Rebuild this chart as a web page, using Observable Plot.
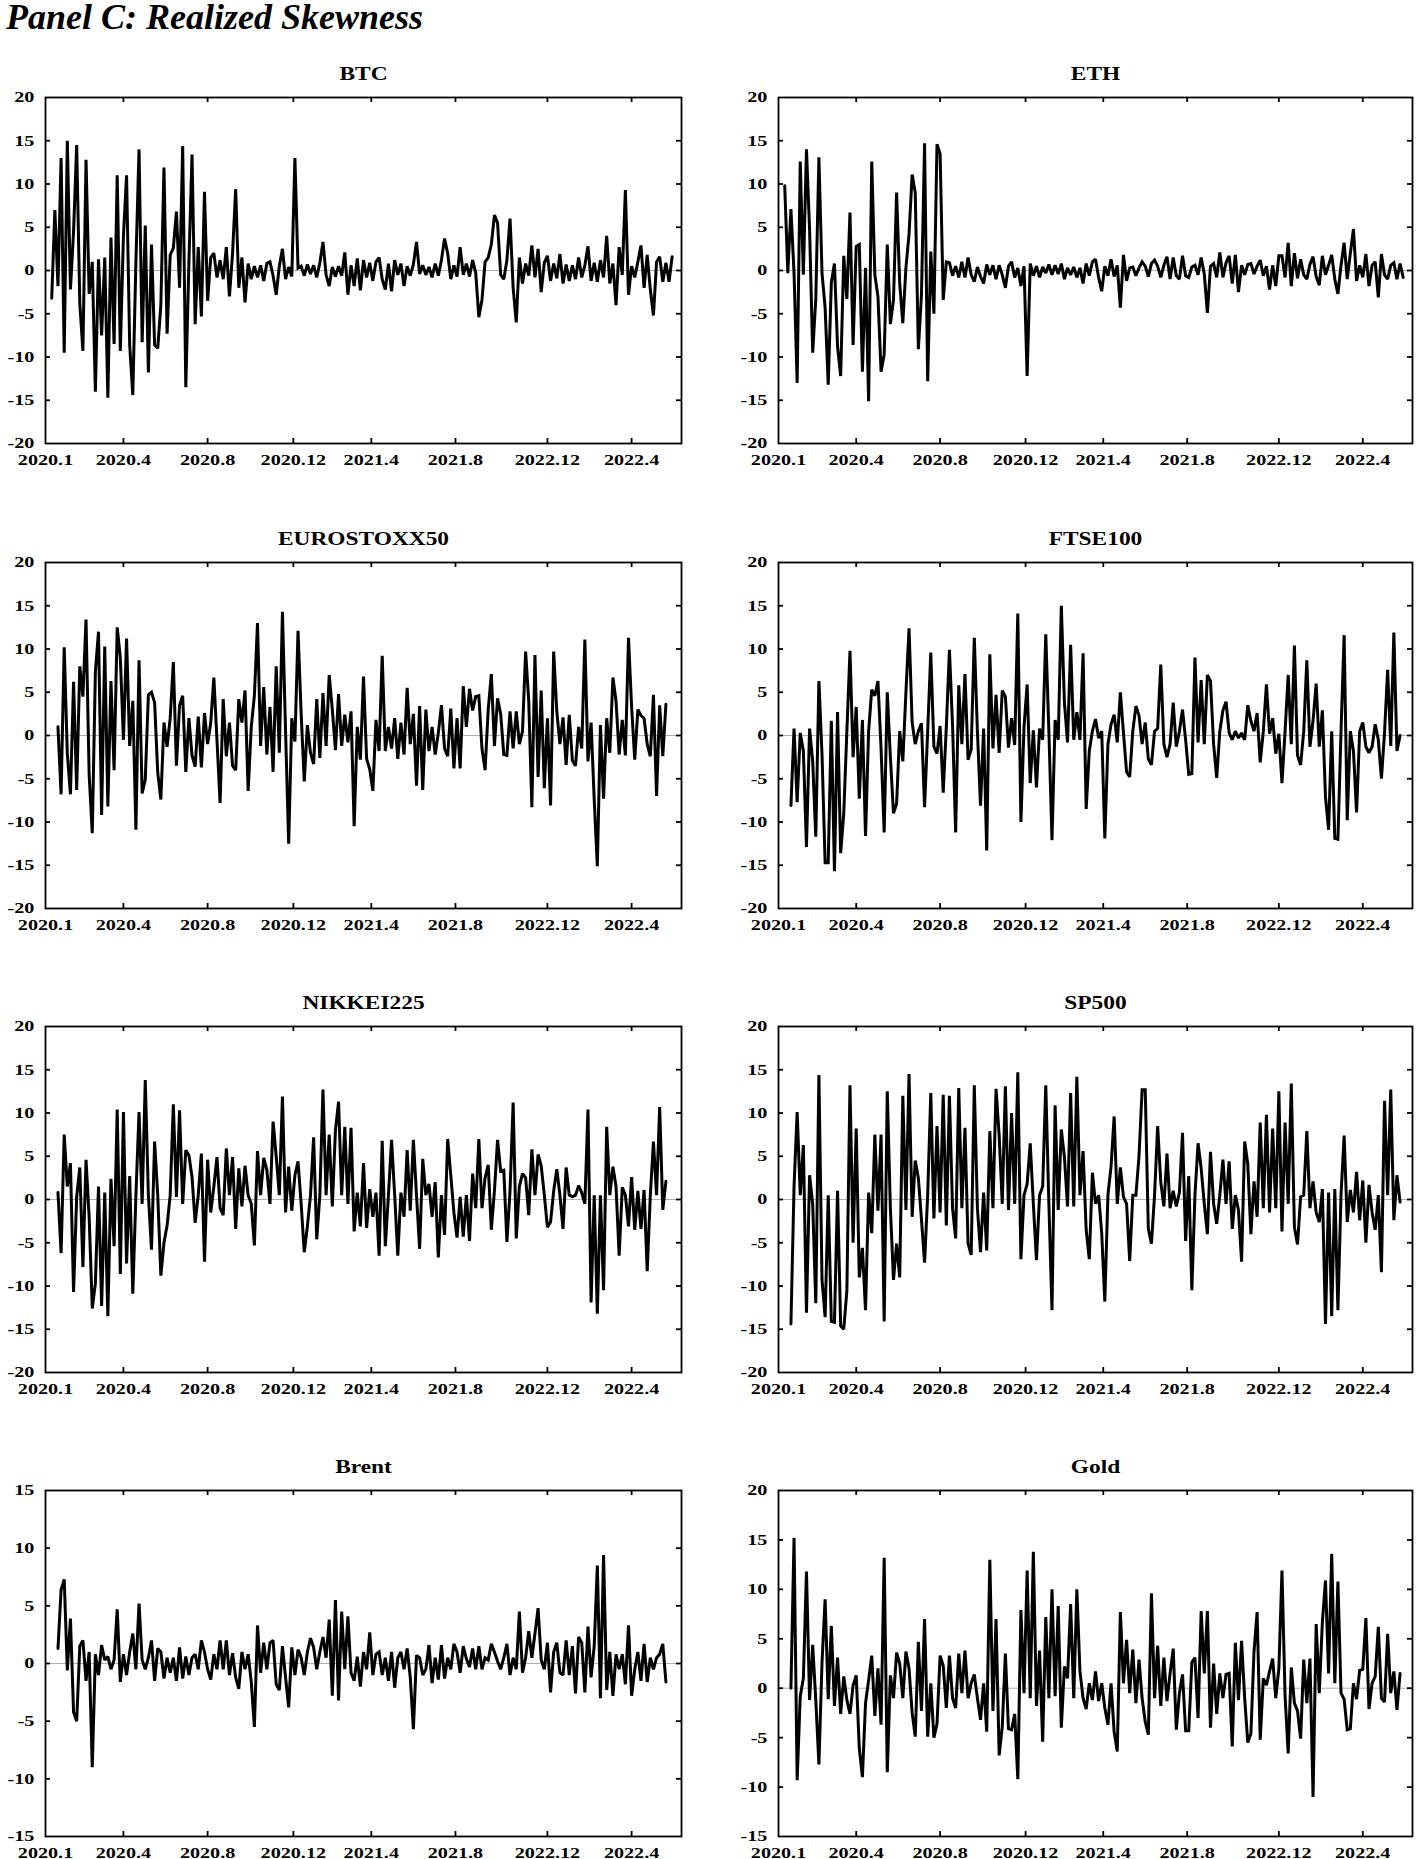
<!DOCTYPE html>
<html><head><meta charset="utf-8">
<script src="https://cdn.jsdelivr.net/npm/d3@7"></script>
<script src="https://cdn.jsdelivr.net/npm/@observablehq/plot@0.6"></script>
<style>
html,body{margin:0;padding:0;background:#fff}
body{width:1416px;height:1859px;overflow:hidden;position:relative}
#title{position:absolute;left:6px;top:-4px;font:italic bold 36px "Liberation Serif",serif;color:#000;white-space:nowrap}
.panel{position:absolute}
</style></head><body>
<div id="title">Panel C: Realized Skewness</div>
<div id="root"></div>
<script>
const seriesNames = ["BTC","ETH","EUROSTOXX50","FTSE100","NIKKEI225","SP500","Brent","Gold"];

const btc = [
-3.2,7,-1.8,13,-9.5,15,-2.2,4.5,14.5,-3.8,
-9.3,12.8,-2.7,1,-14,1.3,-7.5,1.5,-14.7,3.8,
-8.5,11,-9.3,4,11,-8.6,-14.4,1,14,-8.3,
5.2,-11.8,3,-8.6,-9,-4,11.9,-7.3,1.8,2.6,
6.8,-2,14.4,-13.5,1,13.4,-6.2,2.7,-5.3,9.1,
-3.5,1.5,2,-0.8,1.2,-1,2.7,-3,2,9.4,
-2,1.5,-3.7,0.8,-1,0.5,-0.8,0.6,-1.2,0.8,
1,-0.6,-2.8,0.5,2.5,-1,0.4,-0.7,13,0.3,
0.5,-0.6,0.7,-0.4,0.6,-0.8,0.9,3.3,-0.5,-1.8,
0.4,-0.7,0.5,-0.6,2.1,-2.8,0.6,-1.8,1.4,-2.3,
1.2,-0.8,0.9,-1.2,1,1.5,-1,-2.2,0.8,-2.4,
1.2,-0.5,0.8,-1.8,0.5,-0.6,0.7,3.3,-0.4,0.6,
-0.5,0.4,-0.8,0.8,-0.6,1.2,3.7,2,-1,0.6,
-0.7,2.7,-0.5,0.8,-0.7,1.2,-0.3,-5.4,-3.4,1,
1.5,3,6.4,5.5,-0.5,-1,1.2,6,-2,-6,
1.5,-1.5,0.8,-0.6,2.9,-0.8,2.5,-2.5,0.9,1.7,
-1.2,0.8,-0.9,1.9,-1.5,0.7,-1.2,0.6,-1,1.5,
-0.8,0.6,2.8,-1.2,0.9,-1.3,1.2,-0.8,4,-1.5,
0.8,-4,2.7,-0.5,9.3,-2.8,0.5,-0.8,1,2.9,
-2,1.8,-2.2,-5.2,1,1.6,-1.3,0.9,-1.3,1.6];

const eth = [
9.8,-0.3,7.1,-0.3,-13,12.6,-0.5,14,4.8,-9.5,
-3.3,13.1,-0.3,-4.3,-13.2,-1.4,0.8,-8.8,-12.2,1.7,
-3.3,6.7,-8.6,2.8,3,-11.7,0.3,-15.1,12.6,-0.5,
-3,-11.7,-9.7,3,-6.2,-3.4,9,-1.5,-6.1,0.3,
4.2,11.1,9,-9.1,-2.8,14.7,-12.8,2.2,-5,14.6,
13.5,-3.4,1,0.9,-0.6,0.5,-0.8,1,-0.8,1.5,
-0.5,-1.3,0.4,-0.7,-1.5,0.7,-0.5,0.6,-1,0.6,
-0.5,-2,0.5,1,-0.8,0.3,-1.8,0.5,-12.2,0.8,
-0.6,0.5,-0.8,0.4,-0.3,0.7,-0.5,0.6,-0.4,0.8,
-1,0.3,-0.5,0.4,-0.8,0.3,-1.5,0.8,-0.6,1,
1.3,-0.8,-2.4,0.5,-0.6,1.3,-0.7,0.6,-4.3,1.8,
-1.2,0.3,0.4,-0.6,0.3,1,0.5,-0.7,0.8,1.2,
0.5,-0.8,0.6,1.6,-1,1.5,-0.6,-1,1.7,-0.6,
-0.8,0.4,0.6,-0.5,1.5,-0.4,-4.9,0.5,0.8,-0.8,
2.1,-0.8,0.9,1.7,-1.5,1.8,-2.5,0.6,-0.5,0.7,
0.8,-0.4,0.5,1.2,-0.6,0.5,-2.2,0.6,-1.8,1.7,
1.7,-0.8,3.2,-1.8,2,-0.9,1.3,-0.5,-1,0.7,
1.6,-0.7,-1.7,1.7,-0.5,0.6,1.8,-1,-2.7,0.6,
3.2,-1,2,4.8,-1.2,0.6,-0.8,1.9,-1.8,0.6,
1,-3.1,1.9,-0.5,-1,0.6,0.9,-1,0.8,-0.8];

const eurostoxx = [
null,null,1,-6.8,10.2,-2.1,-6.8,6.2,-6.3,8,
4.5,13.4,-4.5,-11.3,7.4,12,-9.2,10.3,-8.2,6.3,
-4,12.5,9,-0.5,11.2,-1.2,4,-10.9,8.7,-6.7,
-5.1,4.7,5,3.8,-4.3,-7.4,1.5,-1.3,2,8.5,
-3.5,3.5,4.6,-4.2,2,-2.3,-3.6,2.2,-3.7,2.6,
-1,1.5,6.7,-0.5,-7.8,4.2,-2.4,1.5,-3.5,-4,
4.2,1.5,5.2,-6.4,1,4.6,13,-1.2,5.6,-2.2,
3.3,-4.2,8,-2,14.3,0.5,-12.5,2,-0.7,12.1,
2.5,-5.3,1.2,-2,-3.3,4.2,-2.6,4.9,-1.2,7,
3,-1.7,4.8,-1.2,2.4,-0.8,2.8,-10.5,1,-2.8,
6.8,-2.7,-3.9,-6.4,1.8,-1.8,9.2,-1.8,1,-1.5,
2,-2.7,1.5,-2.2,5.5,-1,2.5,-5.8,3.4,-6.3,
3,-1.8,1,-2.2,0.3,3.5,-1.5,-2.4,3.1,-3.8,
2,-3.8,5.7,1,5.4,2.9,4.5,4.6,-1.5,-4,
3,7.1,-1.2,4.3,2.5,-2.2,-2.3,2.8,-1.5,2.8,
-1,0.5,9.7,4,-8.3,9.3,-4.8,5.2,-6.1,2,
-8.1,9.7,2.8,-1,2.1,-3.4,2.4,-2.9,-3.5,1,
-1.5,11.1,-3,1.5,-7.4,-15.1,1.2,-7.3,2,-2,
6.7,4,-2.2,1.8,-2.3,11.3,3.3,-2.8,3,2.3,
2,-1,-2.4,4.7,-7,3.5,-2.4,3.6];

const ftse = [
null,null,-8.1,0.8,-7.7,0.3,-1.8,-12.9,0.8,-3,
-11.7,6.3,-2.2,-14.7,-14.7,1.7,-15.7,2.7,-13.6,-9,
0.5,9.8,-2.5,3.3,-7.3,1.8,-11.6,0.5,5.3,4.6,
6.3,-1.5,-11.2,5,-2.5,-9,-7.9,0.5,-3,5,
12.4,1.5,-1,0.5,1.4,-8.3,0.5,9.6,-1.3,-2.1,
1.1,-6.6,1,9.9,1.2,-11.2,5.8,-1,7.1,-2.8,
-1.6,11.3,0.5,-8.1,0.8,-13.3,9.4,-1.5,4.7,-2,
5.2,4.5,-1.4,2,-1.1,14.1,-10,1,5.9,-5.5,
0.6,-6,0.8,-0.5,11.7,0.5,-12.1,1.8,-0.5,15,
3.8,-0.8,10.5,-0.5,2.7,-0.5,9.5,-8.5,-1.8,0.5,
1.9,-0.3,0.5,-11.9,-1,1.3,2.4,-0.8,5,0.3,
-4.2,-4.8,0.5,3.4,2.3,-1,1.5,-2.7,-3.4,0.5,
0.8,8.2,-1,-2.5,-1,3.8,-1.3,0.5,3,-0.5,
-4.5,-4.4,9,-0.8,6.4,-1,7,6.3,-1,-4.9,
0.5,2.9,3.9,0.3,-0.5,0.5,-0.3,0.3,-0.5,3.5,
1.7,0.5,2.6,-3.1,0.5,5.9,0.2,2,-2.1,0.2,
-5.5,0.5,7,-1,10.4,-2.3,-3.4,0.5,8.7,-1.3,
1.7,6,-1.3,2.9,-7.1,-10.9,0.5,-11.9,-12,0.5,
11.6,-9.8,0.5,-1.8,-8.9,0.5,1.5,-1.3,-2,-1.3,
1.3,-0.5,-5,0.3,7.6,-1.2,11.9,-1.8,0];

const nikkei = [
null,null,0.8,-6.2,7.5,1.5,4.2,-10.7,0.3,3.7,
-7.8,4.6,-2,-12.6,-9.7,1.5,-12.3,0.8,-13.5,2.4,
-5.4,10.4,-8.6,10.1,-7.4,2.7,-10.9,0.5,10.1,-0.5,
13.8,0.5,-5.8,6.7,0.5,-8.8,-5,-3,0.5,11,
0.3,10.3,-0.5,5.7,5.1,2.6,-2.7,0.5,5.3,-7.2,
4.6,-1.5,1.5,4.9,-1,-1.8,5.9,0.5,4.9,-3.4,
3.6,-0.8,3.9,0.5,-0.5,-5.3,5.6,0.5,4.8,3.4,
-0.5,9,5,0.5,11.9,-1.5,3.8,-1.3,2.8,4.4,
-0.5,-6.1,-3.1,0.5,7.2,-4.6,0.5,12.7,0.5,7.5,
-0.8,8,11.3,0.5,8.4,-0.5,8.3,-3.7,0.8,-3.1,
4.2,-3.3,1.2,-2,0.8,-6.5,6.8,-5.4,0.5,6.9,
0.5,-6.5,0.8,-2,5.7,-1.3,6.9,0.5,-5.7,4.7,
0.5,1.8,-2,2,-6.7,0.5,-4.1,7,2.8,-1.5,
-4.4,0.3,-4.3,0.5,-4.8,3,-1,7,-1,2.5,
4,-3.5,1,6.9,3.3,3.4,-4.9,1,11.2,-4.5,
1.5,3,2.5,-1.8,5.8,0.5,5.2,3.9,0.5,-3.2,
-2.6,1,3.5,0.5,-3.4,3.7,0.5,0.3,0.5,1.6,
0.8,-0.5,10.4,-11.9,0.5,-13.2,0.5,-10.5,8.4,0.5,
3.8,1.5,-6.5,1.4,0.5,-3.1,2.6,-3.5,1,-3.4,
1.1,-8.3,0.5,6.7,0.5,10.7,-1.2,2.1];

const sp500 = [
null,null,-14.4,1.5,10.1,0.5,6.3,-13.1,2.8,-0.5,
-12,14.4,-9.3,-13.6,0.5,-14.1,-14.2,1,-14.6,-15,
-10.5,13.2,-5,8.2,-9,-5.6,-12.8,0.8,-3.9,7.5,
-1.3,7.5,-14.1,12.5,-1,-9.3,-5.1,-9,12,-1.2,
14.5,-2,4.5,2.5,-2.3,-7.3,0.5,12.3,-2.2,8.5,
-1.5,12.1,-3,12,-1,-4.5,12.9,-1,8.3,-5.1,
-6.4,13.2,-1,-6.1,0.8,-5.9,7.9,-1,12.8,7.4,
-0.5,13.1,-1.2,10,-0.5,14.7,-6.9,0.5,1.8,6.5,
-0.5,-7,0.5,1.5,13.2,-0.5,-12.8,10.9,-1.2,8.1,
4.9,-0.8,12.3,-0.8,14.2,0.5,5.6,-3.5,-6.9,3.1,
-0.5,0.5,-3.9,-11.8,0.5,3.8,9.6,-0.5,3.7,0.3,
-0.5,-7.1,0.5,0.5,5,12.7,12.7,-3.4,-5.1,0.5,
8.5,2,-0.8,5.3,-1,1,-0.8,0.8,7.7,-4.8,
2.7,-10.5,0.5,6.5,3.6,-0.5,-4,5.5,-0.5,-2.8,
0.5,4.6,-0.5,4.4,-3.4,0.5,-1.2,-7.2,6.7,4.1,
-4,2.1,-2,8.9,-1,9.8,-1.5,8.2,-1,12.5,
-3.7,8.9,-0.5,13.4,-3.2,-5.2,0.3,0.5,7.9,-1,
2.1,-1.5,-2.6,1.2,-14.4,0.8,-13.5,1.2,-12.8,0.5,
7.4,-2.6,1.1,-1.5,3.2,-2.4,2.2,-5,1.7,-1.5,
-3.5,0.5,-8.4,11.4,0.5,12.7,-2.4,2.8,-0.3];

const brent = [
null,null,1.3,6.4,7.3,-0.6,3.9,-4.2,-5,1.5,
2,-1.5,1,-9,0.8,-1,1.6,0.3,0.6,-0.5,
0.3,4.7,-1.6,0.8,-1,1,2.6,-0.5,5.2,0.3,
-0.5,0.5,2,-1.5,1.3,1,-1.3,0.5,-0.8,0.5,
-1.5,1.4,-1.3,0.6,-1,0.5,0.8,-0.5,2,1,
-0.5,-1.4,0.8,-0.5,2,-0.5,2,-1,0.9,-1.2,
-2.2,1,-0.5,0.8,-1.6,-5.5,3.3,-0.8,1.8,-0.5,
1.8,2,-1.8,-2.3,1.5,-1.2,-3.8,1.4,-1,1.2,
0.5,-1,1,2.2,1.4,-0.5,1,2.3,0.5,3.8,
-2.8,5.5,-3.2,4.5,-0.5,4.1,-0.8,-1.5,0.6,-2,
1,-0.5,2.7,-1,0.8,1,-1,0.5,-1.5,1,
-2.1,0.5,1,-0.5,1.3,-1.2,-5.7,0.7,0.5,-1,
-0.5,1.6,-1.7,0.5,-1.4,1.6,-1.3,0.5,-0.5,1.7,
1,-0.8,1.5,0.4,-0.3,1.3,-0.5,1.5,-0.5,0.5,
0.3,1.7,1,0.2,-0.5,0.5,1.7,-1,0.5,-0.5,
4.5,-0.8,0.5,2.8,0.5,2.6,4.8,0.3,-0.5,1.8,
-2.5,1,1.8,-0.8,-1,2,-1,1.5,-2.6,2.3,
1.8,-2.5,3.2,-1.2,1.5,8.5,-3,9.4,-2.3,1,
-2.8,0.8,-0.5,0.8,-1.8,3.3,-2.8,-0.5,1,-1.5,
1.7,-1.6,0.5,-0.5,0.5,0.8,1.7,-1.6];

const gold = [
null,null,0,15.2,-9.3,-0.8,1,11.8,-1.2,4.4,
-1.2,-7.7,2.6,9,-1.1,6.3,-1.8,3.1,-2.6,1.2,
-1.2,-2.6,0.3,1.3,-6.1,-9,-1.5,0.8,3.3,-2.8,
2,-3.7,13.2,-8.5,1.3,-1,3.6,2.5,-1,3.7,
2,-2.5,-4.9,4.7,-2.3,7,-4.9,0.5,-5,-3.6,
3.3,2.3,-2,3.3,-1,-2,3.5,-0.5,3.8,-1,
0.5,1.4,-1,-3.2,0.5,-4.4,13,-2.3,7,-6.8,
-3.9,3.5,-4.1,-4.2,-2.6,-9.2,7.9,-0.5,11.9,-1,
13.8,-1.8,3.8,-5.4,7.2,-1,10,-0.8,8.3,-4,
2.2,1,8.5,-1,10,1.7,-1,-2.1,0.5,-1.2,
1.7,-1.3,0.5,-2,-3.7,0.5,-4.4,-6.4,7.7,0.5,
4.9,-0.5,3.9,-1.5,2.9,-1,-3.4,-4.7,9.6,-1,
4.3,-1.8,3.1,-1.3,1.5,4,-4.2,-0.5,1.4,-4.3,
-4.3,2.6,3.1,-3,7.8,1.5,7.8,-4,2.5,-2.6,
1.5,-1,1.4,1.5,-5.9,4.6,-1.2,4.8,-1,-5.5,
-4.6,3.7,7.7,-5.2,1,0.3,1.7,3,-1,2,
11.9,-0.8,-6.6,2.1,-1.5,-2.3,-5.1,2.9,-1.5,3,
-11,6.5,-0.5,6.7,10.9,1.5,13.6,0.5,10.8,-0.5,
-1.1,-4.2,-4.1,0.5,-1.1,1.8,1.9,7.1,-2.1,0.5,
1.2,6.2,-1,-1.4,5.5,-0.5,1.7,-2.2,1.5];

const seriesValues = [btc, eth, eurostoxx, ftse, nikkei, sp500, brent, gold];
const yDomains = [[-20,20],[-20,20],[-20,20],[-20,20],[-20,20],[-20,20],[-15,15],[-15,20]];
const xTickIdx = [0, 25, 52, 79.5, 104.5, 131.5, 161, 188];
const xTickLabels = ["2020.1","2020.4","2020.8","2020.12","2021.4","2021.8","2022.12","2022.4"];
const xDomain = [0, 204];

// ---- layout ----
const root = document.getElementById("root");
const rowTops = [97, 562, 1026, 1490];
const frameH = 346;
const MT = 44, MB = 30, ML = 45;
const FONT = '"Liberation Serif", "Times New Roman", serif';

// the reference figure is horizontally stretched: widen every text of a panel about its anchor
function stretchTexts(svg, s) {
  svg.querySelectorAll("text").forEach(t => {
    const bb = t.getBBox();
    const anchor = getComputedStyle(t).textAnchor;
    const px = anchor === "end" ? bb.x + bb.width : anchor === "middle" ? bb.x + bb.width / 2 : bb.x;
    const prev = t.getAttribute("transform");
    t.setAttribute("transform", (prev ? prev + " " : "") + `translate(${px},0) scale(${s},1) translate(${-px},0)`);
  });
}

seriesValues.forEach((values, k) => {
  const col = k % 2, row = Math.floor(k / 2);
  const fw = col ? 634 : 636;
  const mr = col ? 4 : 20;
  const left = col ? 733 : 0;
  const [y0, y1] = yDomains[k];
  const yTicks = d3.range(y0, y1 + 0.001, 5);
  const data = values.map((v, i) => ({x: i + 2, y: v})).filter(d => d.y != null);
  const tickLenY = (y1 - y0) * 5 / frameH;
  const tickLenX = (xDomain[1] - xDomain[0]) * 5 / fw;
  const inner = xTickIdx.slice(1);
  const innerY = yTicks.slice(1, -1);
  const mb = row === 3 ? 24 : MB;
  const svg = Plot.plot({
    width: ML + fw + mr,
    height: MT + frameH + mb,
    marginLeft: ML, marginRight: mr, marginTop: MT, marginBottom: mb,
    style: {fontFamily: FONT, fontWeight: "bold", fontSize: "15.5px", color: "#000", background: "transparent", overflow: "visible"},
    x: {domain: xDomain},
    y: {domain: [y0, y1]},
    marks: [
      Plot.ruleY([0], {stroke: "#b0b0b0", strokeWidth: 1}),
      Plot.line(data, {x: "x", y: "y", stroke: "#000", strokeWidth: 3, strokeLinejoin: "miter", strokeMiterlimit: 2}),
      Plot.ruleX(inner, {y1: y1, y2: y1 - tickLenY, stroke: "#000", strokeWidth: 1.8}),
      Plot.ruleX(inner, {y1: y0, y2: y0 + tickLenY, stroke: "#000", strokeWidth: 1.8}),
      Plot.ruleY(innerY, {x1: xDomain[0], x2: xDomain[0] + tickLenX, stroke: "#000", strokeWidth: 1.8}),
      Plot.ruleY(innerY, {x1: xDomain[1], x2: xDomain[1] - tickLenX, stroke: "#000", strokeWidth: 1.8}),
      Plot.frame({stroke: "#000", strokeWidth: 1.8}),
      Plot.axisX(xTickIdx, {tickSize: 0, tickPadding: 10, tickFormat: d => xTickLabels[xTickIdx.indexOf(d)], fontSize: 15.5, fontWeight: "bold", label: null}),
      Plot.axisY(yTicks, {tickSize: 0, tickPadding: 11, tickFormat: d => String(d), fontSize: 15.5, fontWeight: "bold", label: null}),
      Plot.text([seriesNames[k]], {text: d => d, frameAnchor: "top", lineAnchor: "middle", dy: -23, fontSize: 18, fontWeight: "bold"})
    ]
  });
  const wrap = document.createElement("div");
  wrap.className = "panel";
  wrap.style.left = left + "px";
  wrap.style.top = (rowTops[row] - MT) + "px";
  wrap.appendChild(svg);
  root.appendChild(wrap);
  stretchTexts(svg, 1.3);
});
</script>
</body></html>
